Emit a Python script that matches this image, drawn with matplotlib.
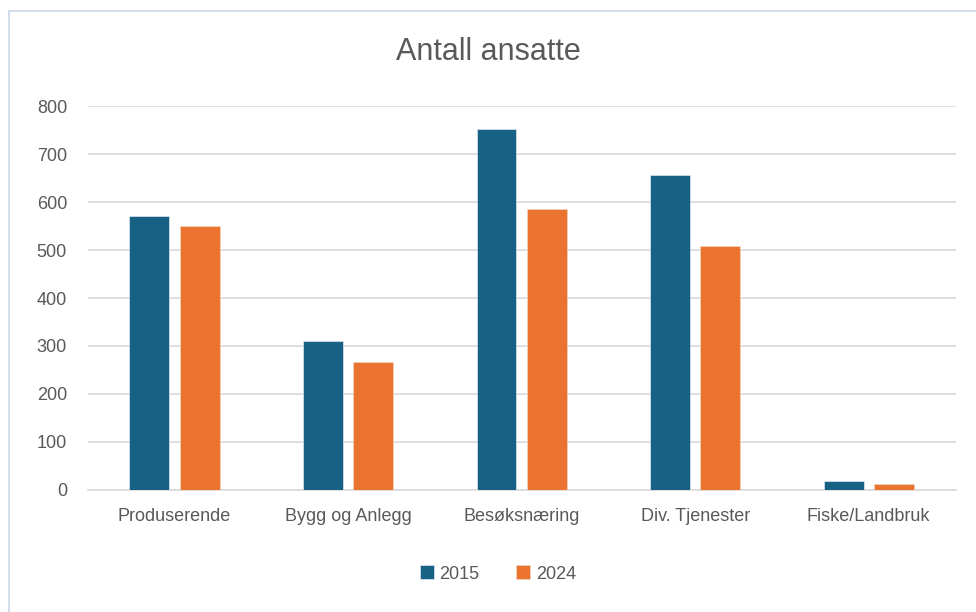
import matplotlib
matplotlib.use('Agg')
import matplotlib.pyplot as plt
import numpy as np
from matplotlib.patches import Rectangle

categories = ['Produserende', 'Bygg og Anlegg', 'Besøksnæring', 'Div. Tjenester', 'Fiske/Landbruk']
years = ['2015', '2024']
values_2015 = [572, 311, 752, 656, 19]
values_2024 = [551, 267, 585, 509, 11]

plt.rcParams['font.family'] = ['Liberation Sans', 'DejaVu Sans']
text_color = '#595959'
colors = ['#176184', '#ea7330']

fig = plt.figure(figsize=(9.76, 6.12), dpi=100)
fig.patches.append(Rectangle((0.009, -0.01), 1.0, 0.992, transform=fig.transFigure,
                             fill=False, edgecolor='#c9d7e8', linewidth=1.2))

ax = fig.add_axes([0.090, 0.200, 0.889, 0.626])
x = np.arange(len(categories))
w = 0.23
ax.bar(x - 0.145, values_2015, w, color=colors[0], label=years[0],
       edgecolor='#dfe8ee', linewidth=0.5, zorder=3)
ax.bar(x + 0.145, values_2024, w, color=colors[1], label=years[1],
       edgecolor='#f3d3bf', linewidth=0.5, zorder=3)

ax.set_xlim(-0.5, len(categories) - 0.5)
ax.set_ylim(0, 800)
ax.set_yticks(range(0, 801, 100))
ax.grid(axis='y', color='#d9d9d9', linewidth=1.2, zorder=0)
ax.set_xticks(x)
ax.set_xticklabels(categories, fontsize=13.5)
for s in ['top', 'right', 'left']:
    ax.spines[s].set_visible(False)
ax.spines['bottom'].set_color('#d9d9d9')
ax.spines['bottom'].set_linewidth(1.2)
ax.tick_params(length=0, colors=text_color, labelsize=13)
ax.tick_params(axis='x', pad=13)
ax.tick_params(axis='y', pad=15)

fig.text(0.5, 0.915, 'Antall ansatte', ha='center', va='center',
         fontsize=22, color=text_color)

leg = fig.legend(loc='center', bbox_to_anchor=(0.51, 0.062), ncol=2, frameon=False,
                 fontsize=13, handlelength=0.8, handleheight=0.8,
                 handletextpad=0.3, columnspacing=2.0)
for t in leg.get_texts():
    t.set_color(text_color)

fig.savefig('out.png', dpi=100, facecolor='white')
